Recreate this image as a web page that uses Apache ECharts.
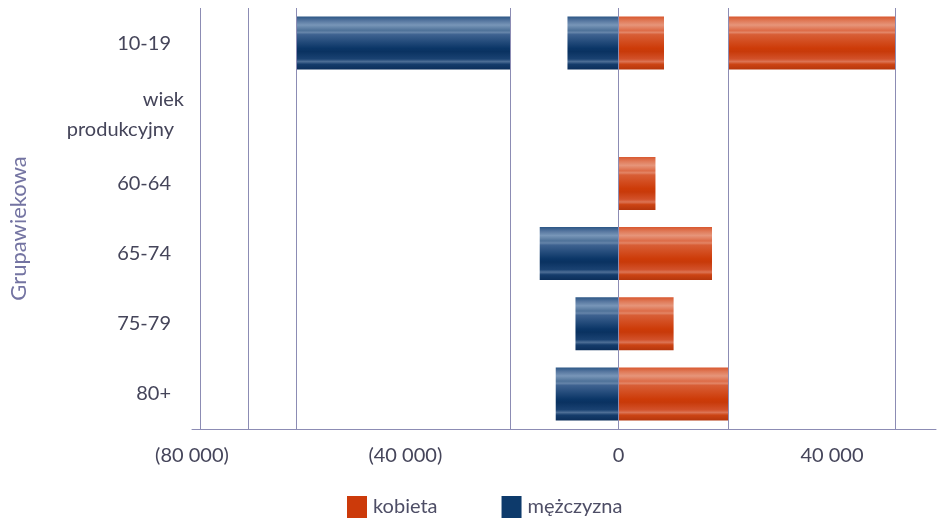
<!DOCTYPE html>
<html>
<head>
<meta charset="utf-8">
<script src="https://cdn.jsdelivr.net/npm/echarts@6/dist/echarts.min.js"></script>
<style>
html,body{margin:0;padding:0;background:#fff;}
#c{width:939px;height:530px;}
</style>
</head>
<body>
<div id="c"></div>
<script>
const categories = ['10-19', 'wiek produkcyjny', '60-64', '65-74', '75-79', '80+'];
const kobieta = [8500, 0, 6900, 17500, 10300, 20500];
const mezczyzna = [-9600, 0, 0, -14800, -8100, -11800];
// additional detached segments (start, end)
const kobietaSegFrom = [20500, 0, 0, 0, 0, 0];
const kobietaSegTo = [51900, 0, 0, 0, 0, 0];
const mezczyznaSegFrom = [-20300, 0, 0, 0, 0, 0];
const mezczyznaSegTo = [-60400, 0, 0, 0, 0, 0];
const gridValues = [-78500, -69500, -60400, -20300, 0, 20500, 51900];
const xTicks = [-80000, -40000, 0, 40000];

const fmt = v => {
  const a = Math.abs(v).toString().replace(/\B(?=(\d{3})+(?!\d))/g, ' ');
  return v < 0 ? '(' + a + ')' : a;
};

const redGrad = {type:'linear',x:0,y:0,x2:0,y2:1,colorStops:[
  {offset:0,color:'#d8582f'},{offset:0.08,color:'#e07a58'},{offset:0.16,color:'#e6957a'},
  {offset:0.26,color:'#dd6c48'},{offset:0.3,color:'#e38566'},{offset:0.34,color:'#d85e36'},
  {offset:0.6,color:'#cd3b08'},{offset:0.66,color:'#c83a0a'},{offset:0.8,color:'#d2512a'},
  {offset:0.85,color:'#dc7454'},{offset:0.9,color:'#cc4414'},{offset:1,color:'#b5360c'}]};
const blueGrad = {type:'linear',x:0,y:0,x2:0,y2:1,colorStops:[
  {offset:0,color:'#2d5786'},{offset:0.08,color:'#5777a0'},{offset:0.16,color:'#7896b8'},
  {offset:0.26,color:'#4f7299'},{offset:0.3,color:'#6584a9'},{offset:0.34,color:'#3e6290'},
  {offset:0.6,color:'#0b3667'},{offset:0.66,color:'#0a3261'},{offset:0.8,color:'#1a4272'},
  {offset:0.85,color:'#4d6e96'},{offset:0.9,color:'#153c6b'},{offset:1,color:'#0b2e5a'}]};

const spacerF = kobietaSegFrom.map((v, i) => v ? v - kobieta[i] : 0);
const bigF = kobietaSegTo.map((v, i) => v ? v - kobietaSegFrom[i] : 0);
const spacerM = mezczyznaSegFrom.map((v, i) => v ? v - mezczyzna[i] : 0);
const bigM = mezczyznaSegTo.map((v, i) => v ? v - mezczyznaSegFrom[i] : 0);

const barBase = {type:'bar', stack:'pyr', barWidth:53, silent:true, animation:false};
const labelColor = '#45455a';

const chart = echarts.init(document.getElementById('c'));
chart.setOption({
  backgroundColor:'#ffffff',
  textStyle:{fontFamily:'Lato'},
  grid:{left:190, right:0, top:8, bottom:101, containLabel:false},
  legend:{
    left:347, top:496, padding:0, itemWidth:20, itemHeight:22, itemGap:64,
    icon:'rect',
    textStyle:{fontFamily:'Lato', fontSize:20, color:'#4e4e66', padding:[0,0,0,1]},
    data:[
      {name:'kobieta', itemStyle:{color:'#cc3a0a'}},
      {name:'mężczyzna', itemStyle:{color:'#0d3a6b'}}
    ]
  },
  xAxis:{
    type:'value', min:-80000, max:59500, interval:40000,
    axisLine:{show:true, lineStyle:{color:'#8c8cb4', width:1}},
    axisTick:{show:false},
    splitLine:{show:false},
    axisLabel:{
      margin:17, fontFamily:'Lato', fontSize:20, color:labelColor,
      formatter: v => xTicks.indexOf(v) >= 0 ? fmt(v) : ''
    }
  },
  yAxis:{
    type:'category', inverse:true, data:categories,
    axisLine:{show:false}, axisTick:{show:false}, splitLine:{show:false},
    name:'Grupawiekowa', nameLocation:'middle', nameRotate:90, nameGap:162,
    nameTextStyle:{fontFamily:'Lato', fontSize:22, color:'#7474a2', padding:[0,0,0,-20]},
    axisLabel:{
      margin:8, fontFamily:'Lato', fontSize:20, color:labelColor, lineHeight:32,
      formatter: v => v === 'wiek produkcyjny' ? '{w|wiek}\n{p|produkcyjny}' : '{n|' + v + '}',
      rich:{
        w:{fontFamily:'Lato', fontSize:20, color:labelColor, lineHeight:32, padding:[4,0,0,0]},
        p:{fontFamily:'Lato', fontSize:20, color:labelColor, lineHeight:32, padding:[0,10,0,0]},
        n:{fontFamily:'Lato', fontSize:20, color:labelColor, padding:[0,13,0,0]}
      }
    }
  },
  series:[
    Object.assign({}, barBase, {name:'kobieta', data:kobieta, itemStyle:{color:redGrad}}),
    Object.assign({}, barBase, {name:'_sf', data:spacerF, itemStyle:{color:'rgba(0,0,0,0)'}}),
    Object.assign({}, barBase, {name:'kobieta', data:bigF, itemStyle:{color:redGrad}}),
    Object.assign({}, barBase, {name:'mężczyzna', data:mezczyzna, itemStyle:{color:blueGrad}}),
    Object.assign({}, barBase, {name:'_sm', data:spacerM, itemStyle:{color:'rgba(0,0,0,0)'}}),
    Object.assign({}, barBase, {name:'mężczyzna', data:bigM, itemStyle:{color:blueGrad}}),
    {
      type:'scatter', name:'_grid', data:[], symbolSize:0, z:10, silent:true, animation:false,
      markLine:{
        silent:true, symbol:'none', animation:false,
        label:{show:false},
        lineStyle:{color:'#8c8cb4', width:1, type:'solid'},
        data: gridValues.map(v => ({xAxis:v}))
      }
    }
  ]
});
</script>
</body>
</html>
